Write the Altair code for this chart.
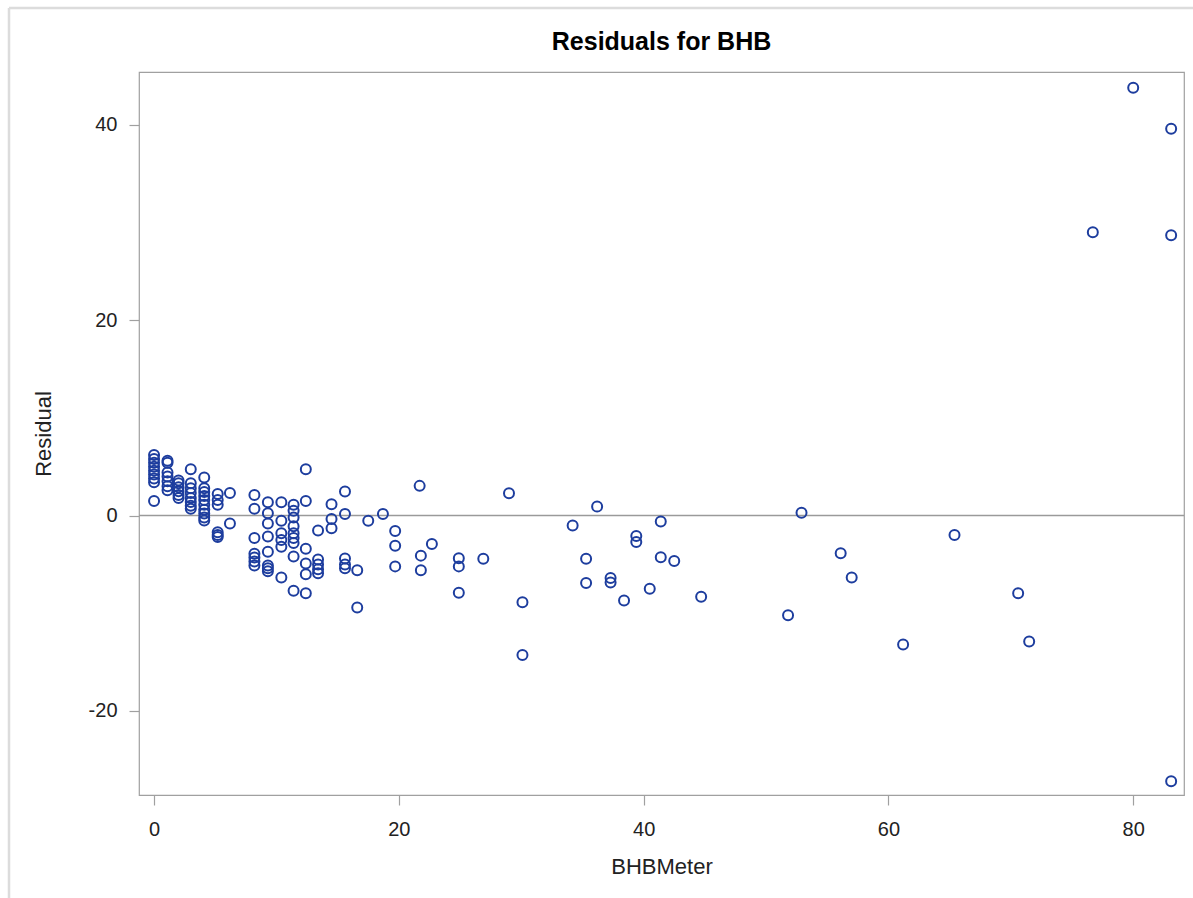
import altair as alt
import pandas as pd

# ---- data ----
bhb_meter = (
    [0.0] * 9
    + [1.1] * 7
    + [2.0] * 6
    + [3.0] * 8
    + [4.1] * 10
    + [5.2] * 6
    + [6.2] * 2
    + [8.2] * 7
    + [9.3] * 8
    + [10.4] * 6
    + [11.4] * 9
    + [12.4] * 6
    + [13.4] * 5
    + [14.5] * 3
    + [15.6] * 5
    + [16.6] * 2
    + [17.5, 18.7]
    + [19.7] * 3
    + [21.7, 21.8, 21.8, 22.7]
    + [24.9] * 3
    + [26.9, 29.0, 30.1, 30.1, 34.2, 35.3, 35.3, 36.2, 37.3, 37.3, 38.4,
       39.4, 39.4, 40.5, 41.4, 41.4, 42.5, 44.7, 51.8, 52.9, 56.1, 57.0,
       61.2, 65.4, 70.6, 71.5, 76.7, 80.0, 83.1, 83.1, 83.1]
)
residual = (
    [6.2, 5.8, 5.4, 5.0, 4.6, 4.2, 3.8, 3.4, 1.5]
    + [5.6, 5.4, 4.4, 4.0, 3.5, 3.0, 2.6]
    + [3.6, 3.3, 2.9, 2.5, 2.1, 1.8]
    + [4.75, 3.3, 2.8, 2.3, 1.8, 1.4, 1.0, 0.7]
    + [3.9, 2.8, 2.4, 2.0, 1.6, 1.1, 0.6, 0.2, -0.2, -0.5]
    + [2.2, 1.6, 1.1, -1.7, -2.0, -2.2]
    + [2.3, -0.8]
    + [2.1, 0.7, -2.3, -3.9, -4.3, -4.7, -5.1]
    + [1.37, 0.24, -0.8, -2.15, -3.7, -5.1, -5.4, -5.7]
    + [1.37, -0.54, -1.8, -2.5, -3.2, -6.35]
    + [1.1, 0.5, -0.2, -1.1, -1.8, -2.3, -2.8, -4.2, -7.7]
    + [4.75, 1.5, -3.4, -4.9, -6.0, -7.95]
    + [-1.53, -4.5, -5.0, -5.5, -5.9]
    + [1.17, -0.34, -1.3]
    + [2.46, 0.17, -4.4, -5.0, -5.4]
    + [-5.6, -9.4]
    + [-0.54, 0.17]
    + [-1.57, -3.1, -5.2]
    + [3.04, -4.1, -5.6, -2.9]
    + [-4.36, -5.2, -7.9]
    + [-4.43, 2.29, -8.87, -14.26, -1.02, -4.43, -6.9, 0.92, -6.4, -6.86, -8.7,
       -2.1, -2.7, -7.5, -0.6, -4.26, -4.64, -8.3, -10.2, 0.3, -3.85, -6.35,
       -13.2, -2.0, -7.95, -12.9, 29.0, 43.8, 39.6, 28.7, -27.2]
)
x_ticks = [0, 20, 40, 60, 80]
y_ticks = [-20, 0, 20, 40]
reference = [0]
chart_title = "Residuals for BHB"

df = pd.DataFrame({"BHBMeter": bhb_meter, "Residual": residual})
ref_df = pd.DataFrame({"Residual": reference})

FONT = "Liberation Sans, Arial, sans-serif"
MARK = "#1d3d9e"
FRAME = "#a0a0a0"

x_scale = alt.Scale(domain=[-1.23, 84.15], nice=False, zero=False)
y_scale = alt.Scale(domain=[-28.6, 45.4], nice=False, zero=False)

x_axis = alt.Axis(values=x_ticks, title="BHBMeter", grid=False,
                  labelPadding=14, titlePadding=17,
                  labelExpr="'' + datum.value")
y_axis = alt.Axis(values=y_ticks, title="Residual", grid=False,
                  labelPadding=12, titlePadding=33,
                  labelExpr="'' + datum.value")

zero_line = alt.Chart(ref_df).mark_rule(color="#9a9a9a", strokeWidth=1.5).encode(
    y=alt.Y("Residual:Q", scale=y_scale, axis=y_axis)
)

points = alt.Chart(df).mark_point(
    shape="circle", filled=False, size=100, strokeWidth=2, color=MARK, opacity=1
).encode(
    x=alt.X("BHBMeter:Q", scale=x_scale, axis=x_axis),
    y=alt.Y("Residual:Q", scale=y_scale, axis=y_axis),
)

# light page frame (left and top edges, as in the reference screenshot)
frame_left = alt.Chart(ref_df).mark_rule(color="#dcdcdc", strokeWidth=2.5).encode(
    x=alt.value(-130), y=alt.value(-64), y2=alt.value(830)
)
frame_top = alt.Chart(ref_df).mark_rule(color="#dcdcdc", strokeWidth=2.5).encode(
    x=alt.value(-130), x2=alt.value(1060), y=alt.value(-64)
)

chart = (
    alt.layer(frame_left, frame_top, zero_line, points)
    .properties(
        width=1045,
        height=723,
        title=alt.TitleParams(chart_title, anchor="middle", fontSize=25,
                              fontWeight="bold", font=FONT, color="#000000",
                              offset=0, dy=73, baseline="bottom"),
        autosize=alt.AutoSizeParams(type="none"),
        padding={"left": 139, "top": 72, "right": 9, "bottom": 103},
        background="white",
    )
    .configure_view(stroke=FRAME, strokeWidth=1.2)
    .configure_axis(
        domain=False,
        ticks=True,
        tickColor=FRAME,
        tickSize=10,
        tickWidth=1.2,
        labelFont=FONT,
        labelFontSize=20,
        labelColor="#222222",
        titleFont=FONT,
        titleFontSize=22,
        titleFontWeight="normal",
        titleColor="#222222",
    )
)

chart.save("out.html", embed_options={"renderer": "svg", "actions": False})
